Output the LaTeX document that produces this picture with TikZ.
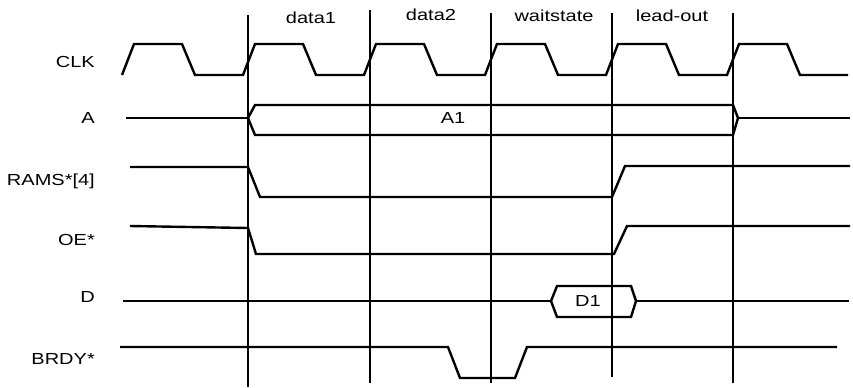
\documentclass[tikz,border=0pt]{standalone}
\usepackage{fontspec}
\usepackage{graphicx}
\setmainfont{Liberation Sans}
\newcommand{\wide}[1]{\scalebox{1.25}[1]{#1}}
\begin{document}
\begin{tikzpicture}[x=1bp,y=-1bp,
  sig/.style={line width=2.4bp, line join=miter},
  grid/.style={line width=1.9bp},
  lbl/.style={font=\fontsize{16bp}{18bp}\selectfont, inner sep=0pt},
  rlbl/.style={lbl, anchor=east}]
\useasboundingbox (0,0) rectangle (853,387);
% vertical reference lines
\draw[grid] (248,15) -- (248,387);
\draw[grid] (370,10) -- (370,383);
\draw[grid] (491,13) -- (491,383);
\draw[grid] (612,13) -- (612,377);
\draw[grid] (733,13) -- (733,383);
% phase labels
\node[lbl] (ph1) at (311,18) {\wide{data1}};
\node[lbl] (ph2) at (431,15) {\wide{data2}};
\node[lbl] (ph3) at (554,16) {\wide{waitstate}};
\node[lbl] (ph4) at (672,16) {\wide{lead-out}};
% signal names
\node[rlbl] (nclk) at (95,62) {\wide{CLK}};
\node[rlbl] (na) at (95,118) {\wide{A}};
\node[rlbl] (nrams) at (95,181) {\wide{RAMS*[4]}};
\node[rlbl] (noe) at (95,240) {\wide{OE*}};
\node[rlbl] (nd) at (95,297) {\wide{D}};
\node[rlbl] (nbrdy) at (95,359) {\wide{BRDY*}};
% CLK
\draw[sig] (122,75) \foreach \k in {0,...,5} {
  -- ({122+121*\k+12},44) -- ({122+121*\k+60},44) -- ({122+121*\k+73},75) -- ({122+121*\k+121},75) };
% A
\draw[sig] (126,118) -- (248,118);
\draw[sig] (248,118) -- (255,105) -- (733,105) -- (738,118) -- (733,135) -- (255,135) -- cycle;
\draw[sig] (738,118) -- (850,118);
\node[lbl] (a1) at (453,118) {\wide{A1}};
% RAMS*[4]
\draw[sig] (130,167) -- (248,167) -- (260,197) -- (612,197) -- (625,166) -- (850,166);
% OE*
\draw[sig] (130,226) -- (248,228) -- (256,254) -- (614,254) -- (627,226) -- (850,226);
% D
\draw[sig] (123,301) -- (551,301);
\draw[sig] (551,301) -- (557,286) -- (631,286) -- (636,301) -- (631,317) -- (557,317) -- cycle;
\draw[sig] (636,301) -- (849,301);
\node[lbl] (d1) at (588,301) {\wide{D1}};
% BRDY*
\draw[sig] (120,347) -- (448,347) -- (460,378) -- (515,378) -- (527,347) -- (837,347);
\end{tikzpicture}
\end{document}
